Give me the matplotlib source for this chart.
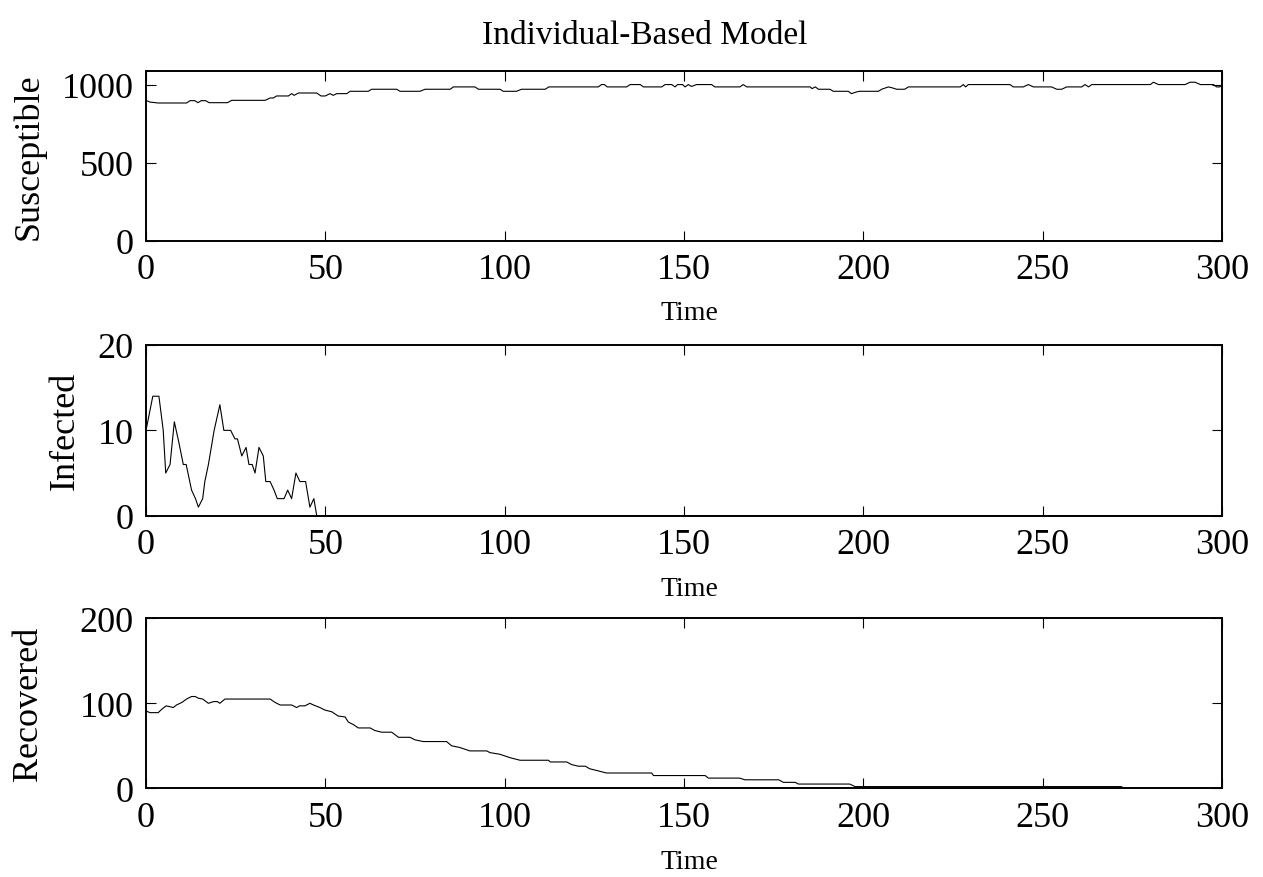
import matplotlib
matplotlib.use("Agg")
import matplotlib.pyplot as plt

plt.rcParams['font.family'] = ['Liberation Serif', 'DejaVu Serif']

# ---------------- data ----------------
title_text = "Individual-Based Model"
xlabel_text = "Time"
ylabels = ["Susceptible", "Infected", "Recovered"]

x_ticks = [0, 50, 100, 150, 200, 250, 300]
s_ticks = [0, 500, 1000]
i_ticks = [0, 10, 20]
r_ticks = [0, 100, 200]

s_time = [0, 1.1, 3.4, 11.3, 12.3, 13.6, 14.5, 15.4, 16.6, 17.6, 22.7, 23.9,
          33.2, 34.6, 35.5, 36.4, 39.7, 40.6, 41.3, 42.5, 47.6, 48.8, 50.0,
          51.3, 52.2, 53.2, 56.0, 56.9, 62.0, 62.9, 69.9, 70.8, 76.4, 77.8,
          84.8, 85.7, 91.7, 92.7, 98.7, 99.6, 103.3, 104.7, 111.3, 112.3,
          126.1, 127.0, 127.8, 128.6, 134.0, 135.0, 137.8, 138.7, 143.8,
          144.7, 146.6, 147.5, 148.2, 149.6, 150.3, 151.2, 152.1, 153.5,
          157.7, 158.6, 165.6, 166.5, 167.5, 185.2, 185.7, 186.6, 187.5,
          190.7, 191.6, 195.8, 196.7, 198.1, 199.0, 204.2, 205.1, 207.0,
          208.2, 209.3, 211.5, 212.6, 227.0, 227.9, 228.5, 229.3, 240.9,
          241.8, 244.6, 246.0, 247.4, 252.5, 253.9, 255.3, 256.7, 260.9,
          261.8, 262.8, 263.7, 280.0, 280.9, 282.3, 289.7, 291.1, 292.5,
          294.0, 297.6, 298.5, 299.4, 300.0]
s_vals = [899, 888, 882, 882, 897, 897, 884, 897, 897, 884, 884, 899,
          899, 914, 914, 927, 927, 942, 931, 946, 946, 927, 927,
          942, 931, 942, 942, 957, 957, 970, 970, 957, 957, 970,
          970, 985, 985, 970, 970, 957, 957, 970, 970, 985,
          985, 1000, 1000, 985, 985, 1000, 1000, 985, 985,
          1000, 1000, 985, 1000, 1000, 985, 1000, 988, 1000,
          1000, 985, 985, 1000, 985, 985, 974, 985, 970,
          970, 957, 957, 942, 953, 957, 957, 970, 985,
          978, 970, 970, 985, 985, 1000, 985, 1000, 1000,
          985, 985, 1000, 985, 985, 970, 970, 985, 985,
          1000, 985, 1000, 1000, 1015, 1000, 1000, 1015, 1015,
          1000, 1000, 985, 985, 1000]

i_time = [0, 1.9, 3.6, 4.8, 5.5, 6.7, 7.9, 9.2, 10.4, 11.2, 12.7, 13.8,
          14.6, 15.8, 16.4, 17.4, 19.0, 20.6, 21.7, 23.6, 24.8, 25.5, 26.7,
          27.9, 28.7, 29.6, 30.4, 31.5, 32.7, 33.4, 34.6, 35.7, 36.6, 38.5,
          39.5, 40.6, 41.8, 42.9, 44.5, 45.7, 46.8, 47.6, 300.0]
i_vals = [10, 14, 14, 10, 5, 6, 11, 8.5, 6, 6, 3, 2,
          1, 2, 4, 6, 10, 13, 10, 10, 9, 9, 7,
          8, 6, 6, 5, 8, 7, 4, 4, 3, 2, 2,
          3, 2, 5, 4, 4, 1, 2, 0, 0]

r_time = [0, 1.1, 3.4, 4.4, 5.6, 6.7, 7.6, 8.5, 10.0, 11.3, 12.7, 13.7,
          14.6, 15.8, 17.4, 18.8, 19.9, 20.6, 22.0, 34.6, 36.0, 37.4, 40.6,
          42.0, 42.8, 44.3, 45.7, 46.7, 48.5, 49.9, 51.8, 53.6, 55.5, 56.4,
          57.8, 59.2, 62.5, 63.8, 65.7, 68.5, 70.4, 73.6, 75.0, 77.3, 83.8,
          85.2, 87.5, 90.3, 95.0, 95.9, 98.7, 100.1, 101.5, 104.3, 112.2,
          112.7, 117.3, 118.6, 120.5, 122.5, 123.7, 125.6, 128.4, 141.0,
          141.5, 155.9, 156.8, 165.5, 167.0, 176.4, 177.7, 181.0, 181.9,
          196.2, 197.7, 272.0, 272.5, 300.0]
r_vals = [91, 89, 89, 93, 97, 96, 95, 98, 101, 105, 108, 108,
          106, 105, 100, 102, 102, 100, 105, 105, 101, 98, 98,
          95, 97, 97, 100, 98, 95, 92, 90, 85, 84, 78,
          75, 71, 71, 68, 66, 66, 60, 60, 57, 55, 55,
          50, 48, 44, 44, 42, 40, 38, 36, 33, 33,
          31, 31, 28, 26, 26, 23, 21, 18, 18,
          15, 15, 12, 12, 10, 10, 7, 7, 5,
          5, 2, 2, 0, 0]

series = [(s_time, s_vals, s_ticks, 1085),
          (i_time, i_vals, i_ticks, 20),
          (r_time, r_vals, r_ticks, 200)]

# ---------------- figure ----------------
W, H = 1263, 878
fig = plt.figure(figsize=(W / 100, H / 100), dpi=100)

# axes boxes in pixels: (left, top, right, bottom)
boxes = [(146, 72.3, 1222, 241.7),
         (146, 346.0, 1222, 516.7),
         (146, 619.3, 1222, 789.3)]
# label centres in pixels: y-label x position, x-label y position
ylab_x = [29, 65, 29]
xlab_y = [314, 589, 863]

for (t, v, yt, ytop), (l, tp, r, b), lab, yx, xy in zip(series, boxes, ylabels, ylab_x, xlab_y):
    ax = fig.add_axes([l / W, 1 - b / H, (r - l) / W, (b - tp) / H])
    ax.plot(t, v, color='black', linewidth=0.8)
    ax.set_xlim(0, 300)
    ax.set_ylim(0, ytop)
    ax.set_xticks(x_ticks)
    ax.set_yticks(yt)
    ax.tick_params(direction='in', length=7, width=0.8, top=True, right=True,
                   labelsize=26, pad=9, colors='black')
    for sp in ax.spines.values():
        sp.set_linewidth(1.4)
    ax.set_xlabel(xlabel_text, fontsize=20)
    ax.set_ylabel(lab, fontsize=26)
    ax.xaxis.label.set_va('center')
    ax.yaxis.label.set_va('center')
    ax.xaxis.set_label_coords((l + r) / 2 / W + 0.004, 1 - xy / H, transform=fig.transFigure)
    ax.yaxis.set_label_coords(yx / W, 1 - (tp + b) / 2 / H, transform=fig.transFigure)

fig.text(645 / W, 1 - 36 / H, title_text, fontsize=24,
         ha='center', va='center')

fig.savefig("out.png", dpi=100)
